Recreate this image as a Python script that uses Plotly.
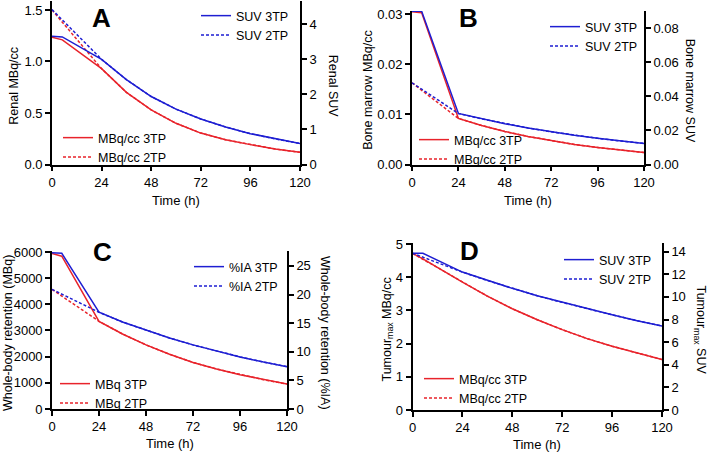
import plotly.graph_objects as go

W, H = 709, 455

# time points (h)
t_3tp = [0, 5, 24, 36, 48, 60, 72, 84, 96, 108, 120]
t_2tp = [0, 24, 36, 48, 60, 72, 84, 96, 108, 120]

# A - renal
renal_mbq_3tp = [1.236, 1.21, 0.93, 0.70, 0.53, 0.40, 0.305, 0.24, 0.193, 0.15, 0.118]
renal_mbq_2tp = [1.50] + renal_mbq_3tp[2:]
renal_suv_3tp = [3.66, 3.64, 3.0, 2.42, 1.94, 1.58, 1.30, 1.07, 0.88, 0.73, 0.60]
renal_suv_2tp = [4.42] + renal_suv_3tp[2:]

# B - bone marrow
marrow_mbq_3tp = [0.0305, 0.0303, 0.0092, 0.0078, 0.0066, 0.0056, 0.0048, 0.0040, 0.0034, 0.0029, 0.0024]
marrow_mbq_2tp = [0.0163] + marrow_mbq_3tp[2:]
marrow_suv_3tp = [0.0900, 0.0900, 0.0300, 0.0268, 0.0240, 0.0215, 0.0192, 0.0172, 0.0154, 0.0138, 0.0124]
marrow_suv_2tp = [0.048] + marrow_suv_3tp[2:]

# C - whole body
wb_mbq_3tp = [5940, 5840, 3350, 2865, 2450, 2090, 1780, 1530, 1310, 1120, 955]
wb_mbq_2tp = [4570] + wb_mbq_3tp[2:]
wb_ia_3tp = [27.3, 27.2, 16.9, 15.2, 13.8, 12.4, 11.2, 10.1, 9.1, 8.2, 7.4]
wb_ia_2tp = [20.9] + wb_ia_3tp[2:]

# D - tumour
tum_mbq_3tp = [4.72, 4.55, 3.85, 3.43, 3.05, 2.72, 2.42, 2.15, 1.92, 1.71, 1.52]
tum_mbq_2tp = [4.72] + tum_mbq_3tp[2:]
tum_suv_3tp = [13.86, 13.86, 12.2, 11.45, 10.76, 10.1, 9.52, 8.95, 8.42, 7.9, 7.43]
tum_suv_2tp = [13.86] + tum_suv_3tp[2:]

x_ticks = [0, 24, 48, 72, 96, 120]

RED = "#e8232b"
BLUE = "#1e1ed2"
FONT = "Arial, Liberation Sans, sans-serif"


def fx(p):
    return p / W


def fy(p):
    return 1 - p / H


panels = [
    dict(letter="A", xd=(52, 300), yd=(1, 164.5), lr=1.587, rr=4.665,
         ld=0.5, rd=1, lf=".1f", rf="d",
         red=(renal_mbq_3tp, renal_mbq_2tp), blue=(renal_suv_3tp, renal_suv_2tp),
         rname="MBq/cc", bname="SUV",
         ltitle="Renal MBq/cc", rtitle="Renal SUV",
         lt_x=14, rt_x=333, let_x=101, let_y=18, tt_off=36,
         leg_b=(96, 139), leg_t=(234, 17)),
    dict(letter="B", xd=(412, 644), yd=(11, 164.5), lr=0.03066, rr=0.0902,
         ld=0.01, rd=0.02, lf=".2f", rf=".2f",
         red=(marrow_mbq_3tp, marrow_mbq_2tp), blue=(marrow_suv_3tp, marrow_suv_2tp),
         rname="MBq/cc", bname="SUV",
         ltitle="Bone marrow MBq/cc", rtitle="Bone marrow SUV",
         lt_x=368, rt_x=690, let_x=468, let_y=18, tt_off=36,
         leg_b=(452, 141), leg_t=(583, 28)),
    dict(letter="C", xd=(52, 287), yd=(251, 409), lr=6037, rr=27.6,
         ld=1000, rd=5, lf="d", rf="d",
         red=(wb_mbq_3tp, wb_mbq_2tp), blue=(wb_ia_3tp, wb_ia_2tp),
         rname="MBq", bname="%IA",
         ltitle="Whole-body retention (MBq)", rtitle="Whole-body retention (%IA)",
         lt_x=8, rt_x=325, let_x=102, let_y=252, tt_off=34,
         leg_b=(93, 385), leg_t=(227, 268)),
    dict(letter="D", xd=(412.5, 662), yd=(243, 410), lr=5.03, rr=14.77,
         ld=1, rd=2, lf="d", rf="d",
         red=(tum_mbq_3tp, tum_mbq_2tp), blue=(tum_suv_3tp, tum_suv_2tp),
         rname="MBq/cc", bname="SUV",
         ltitle="Tumour<sub>max</sub> MBq/cc", rtitle="Tumour<sub>max</sub> SUV",
         lt_x=387, rt_x=700, let_x=469, let_y=251, tt_off=34,
         leg_b=(457, 380), leg_t=(597, 261)),
]

fig = go.Figure()
layout = {}
annotations = []

axis_common = dict(showline=True, linecolor="black", linewidth=1.6,
                   ticks="outside", ticklen=5, tickwidth=1.6, tickcolor="black",
                   showgrid=False, zeroline=False, automargin=False,
                   tickfont=dict(family=FONT, size=13, color="black"))

for i, p in enumerate(panels):
    n = i + 1
    xname = "x" if n == 1 else f"x{n}"
    yl = 2 * i + 1
    yr = 2 * i + 2
    yl_name = "y" if yl == 1 else f"y{yl}"
    yr_name = f"y{yr}"
    leg_b = "legend" if i == 0 else f"legend{2 * i + 1}"
    leg_t = f"legend{2 * i + 2}"

    xdom = [fx(p["xd"][0]), fx(p["xd"][1])]
    ydom = [fy(p["yd"][1]), fy(p["yd"][0])]

    layout["xaxis" if n == 1 else f"xaxis{n}"] = dict(
        axis_common, domain=xdom, range=[0, 120], tickvals=x_ticks,
        anchor=yl_name)
    layout["yaxis" if yl == 1 else f"yaxis{yl}"] = dict(
        axis_common, domain=ydom, range=[0, p["lr"]], dtick=p["ld"], tick0=0,
        tickformat=p["lf"], anchor=xname)
    layout[f"yaxis{yr}"] = dict(
        axis_common, domain=ydom, range=[0, p["rr"]], dtick=p["rd"], tick0=0,
        tickformat=p["rf"], anchor=xname, side="right",
        overlaying=yl_name)

    r3, r2 = p["red"]
    b3, b2 = p["blue"]
    fig.add_trace(go.Scatter(x=t_3tp, y=r3, mode="lines", name=f"{p['rname']} 3TP",
                             line=dict(color=RED, width=1.5),
                             xaxis=xname, yaxis=yl_name, legend=leg_b))
    fig.add_trace(go.Scatter(x=t_2tp, y=r2, mode="lines", name=f"{p['rname']} 2TP",
                             line=dict(color=RED, width=1.5, dash="3px,2px"),
                             xaxis=xname, yaxis=yl_name, legend=leg_b))
    fig.add_trace(go.Scatter(x=t_3tp, y=b3, mode="lines", name=f"{p['bname']} 3TP",
                             line=dict(color=BLUE, width=1.5),
                             xaxis=xname, yaxis=yr_name, legend=leg_t))
    fig.add_trace(go.Scatter(x=t_2tp, y=b2, mode="lines", name=f"{p['bname']} 2TP",
                             line=dict(color=BLUE, width=1.5, dash="3px,2px"),
                             xaxis=xname, yaxis=yr_name, legend=leg_t))

    for key, (tx, ty) in ((leg_b, p["leg_b"]), (leg_t, p["leg_t"])):
        layout[key] = dict(x=fx(tx - 38), y=fy(ty - 16), xanchor="left", yanchor="top",
                           bgcolor="rgba(0,0,0,0)", borderwidth=0,
                           font=dict(family=FONT, size=12.5, color="black"),
                           tracegroupgap=0, itemclick=False)

    ymid = (p["yd"][0] + p["yd"][1]) / 2
    annotations.append(dict(text=p["ltitle"], x=fx(p["lt_x"]), y=fy(ymid + 3),
                            xref="paper", yref="paper", showarrow=False,
                            textangle=-90, xanchor="center", yanchor="middle",
                            font=dict(family=FONT, size=12.5, color="black")))
    annotations.append(dict(text=p["rtitle"], x=fx(p["rt_x"]), y=fy(ymid + 3),
                            xref="paper", yref="paper", showarrow=False,
                            textangle=90, xanchor="center", yanchor="middle",
                            font=dict(family=FONT, size=12.5, color="black")))
    annotations.append(dict(text="Time (h)", x=fx((p["xd"][0] + p["xd"][1]) / 2),
                            y=fy(p["yd"][1] + p["tt_off"]), xref="paper", yref="paper",
                            showarrow=False, xanchor="center", yanchor="middle",
                            font=dict(family=FONT, size=13, color="black")))
    annotations.append(dict(text=f"<b>{p['letter']}</b>", x=fx(p["let_x"]),
                            y=fy(p["let_y"]), xref="paper", yref="paper",
                            showarrow=False, xanchor="center", yanchor="middle",
                            font=dict(family=FONT, size=26, color="black")))

fig.update_layout(**layout)
fig.update_layout(
    template="none",
    width=W, height=H,
    margin=dict(l=0, r=0, t=0, b=0, autoexpand=False),
    paper_bgcolor="white", plot_bgcolor="white",
    annotations=annotations,
    font=dict(family=FONT, color="black"),
)

# drop the browser's default page margin so the figure sits at the window corner
fig.write_html("out.html", config={"displayModeBar": False},
               post_script="document.body.style.margin = '0';")
